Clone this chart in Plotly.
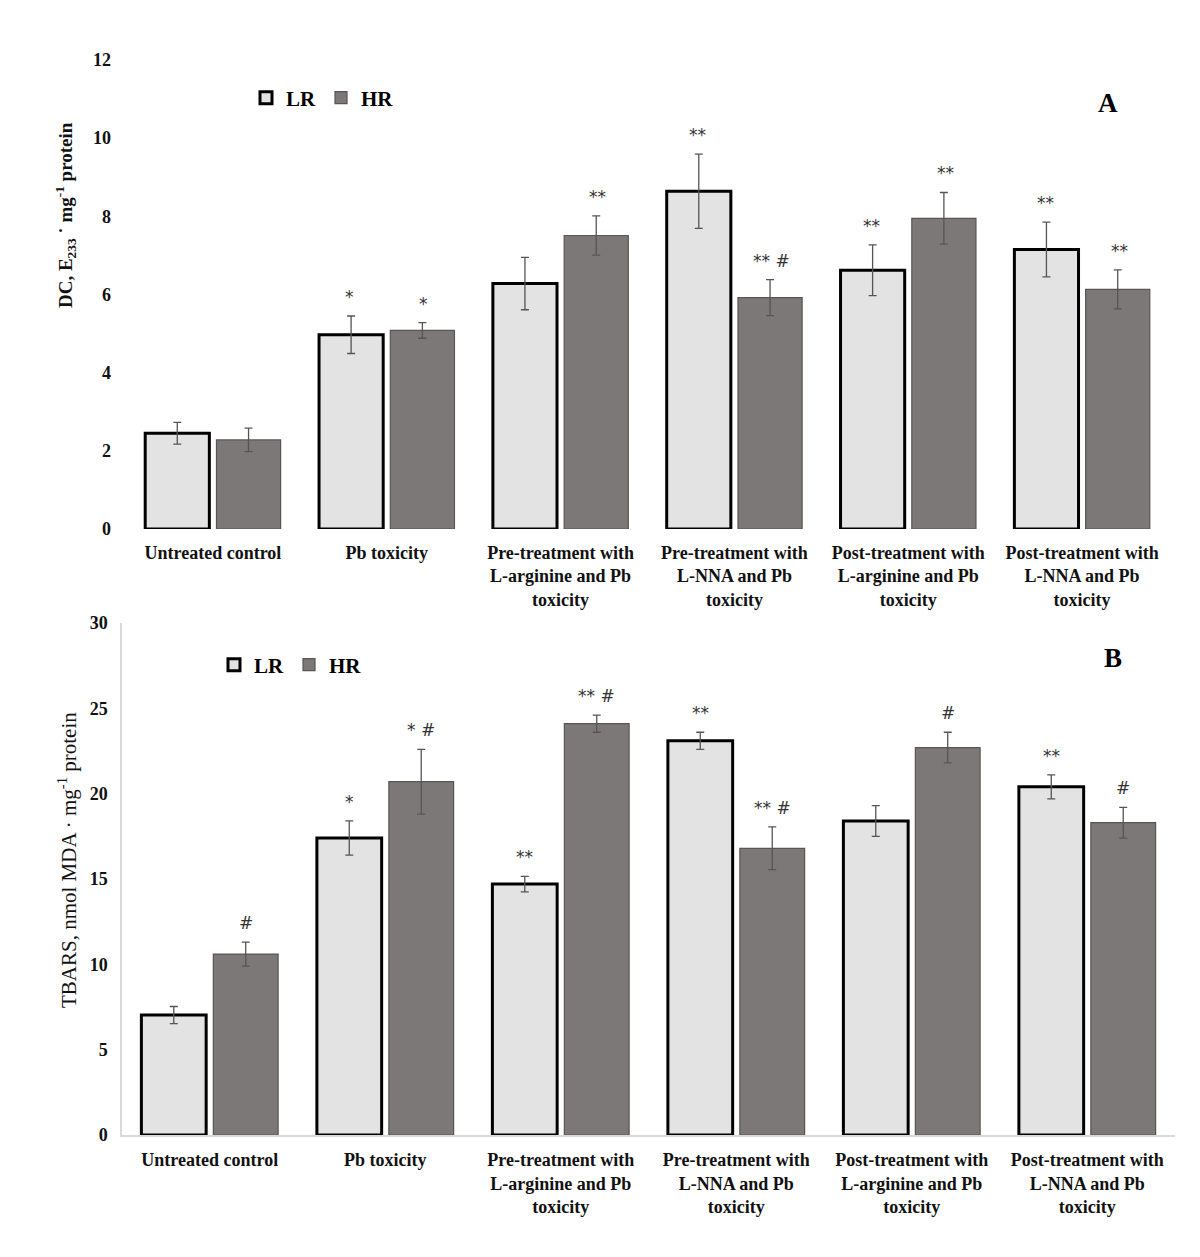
import plotly.graph_objects as go

categories = ["Untreated control", "Pb toxicity",
              "Pre-treatment with<br>L-arginine and Pb<br>toxicity",
              "Pre-treatment with<br>L-NNA and Pb<br>toxicity",
              "Post-treatment with<br>L-arginine and Pb<br>toxicity",
              "Post-treatment with<br>L-NNA and Pb<br>toxicity"]

dc_lr = [2.45, 4.97, 6.28, 8.64, 6.62, 7.15]
dc_lr_err = [0.28, 0.48, 0.67, 0.95, 0.65, 0.70]
dc_hr = [2.28, 5.08, 7.51, 5.92, 7.95, 6.13]
dc_hr_err = [0.30, 0.20, 0.50, 0.46, 0.66, 0.50]
dc_lr_sig = ["", "*", "", "**", "**", "**"]
dc_hr_sig = ["", "*", "**", "** #", "**", "**"]

tb_lr = [7.03, 17.4, 14.7, 23.1, 18.4, 20.4]
tb_lr_err = [0.5, 1.0, 0.45, 0.5, 0.9, 0.7]
tb_hr = [10.6, 20.7, 24.1, 16.8, 22.7, 18.3]
tb_hr_err = [0.7, 1.9, 0.5, 1.25, 0.9, 0.9]
tb_lr_sig = ["", "*", "**", "**", "", "**"]
tb_hr_sig = ["#", "* #", "** #", "** #", "#", "#"]

W, H = 1200, 1257
OFF = 8  # page body margin

def px(p):
    return (p - OFF) / W

def py(p):
    return 1 - (p - OFF) / H

LR_FILL = "#e3e3e3"
HR_FILL = "#7d7878"
ERR = "#555555"
serif = "Liberation Serif, DejaVu Serif, serif"
sans = "DejaVu Sans, Liberation Sans, sans-serif"

fig = go.Figure()

def add_panel(lr, lre, hr, hre, xa, ya, legend):
    fig.add_trace(go.Bar(x=categories, y=lr, name="LR", xaxis=xa, yaxis=ya,
                         marker=dict(color=LR_FILL, line=dict(color="#000000", width=3)),
                         error_y=dict(type="data", array=lre, color=ERR, thickness=1.3, width=4),
                         legend=legend))
    fig.add_trace(go.Bar(x=categories, y=hr, name="HR", xaxis=xa, yaxis=ya,
                         marker=dict(color=HR_FILL, line=dict(color="#5a5555", width=1.2)),
                         error_y=dict(type="data", array=hre, color=ERR, thickness=1.3, width=4),
                         legend=legend))

add_panel(dc_lr, dc_lr_err, dc_hr, dc_hr_err, "x", "y", "legend")
add_panel(tb_lr, tb_lr_err, tb_hr, tb_hr_err, "x2", "y2", "legend2")

annotations = []
def add_sig(vals, errs, sigs, xref, yref, shift):
    for c, v, e, s in zip(categories, vals, errs, sigs):
        if s:
            annotations.append(dict(x=c, y=v + e, xref=xref, yref=yref, text=s,
                                    showarrow=False, xshift=shift, yshift=7,
                                    xanchor="center", yanchor="bottom",
                                    font=dict(family=sans, size=17, color="#333333")))

add_sig(dc_lr, dc_lr_err, dc_lr_sig, "x", "y", -37)
add_sig(dc_hr, dc_hr_err, dc_hr_sig, "x", "y", 37)
add_sig(tb_lr, tb_lr_err, tb_lr_sig, "x2", "y2", -36)
add_sig(tb_hr, tb_hr_err, tb_hr_sig, "x2", "y2", 36)

annotations.append(dict(x=px(1108), y=py(103), xref="paper", yref="paper", text="<b>A</b>",
                        showarrow=False, xanchor="center", yanchor="middle",
                        font=dict(family=serif, size=27, color="#000")))
annotations.append(dict(x=px(1113), y=py(658), xref="paper", yref="paper", text="<b>B</b>",
                        showarrow=False, xanchor="center", yanchor="middle",
                        font=dict(family=serif, size=27, color="#000")))
annotations.append(dict(x=px(66), y=py(215), xref="paper", yref="paper", textangle=-90,
                        text="<b>DC, E<sub>233</sub> ˙ mg<sup>-1</sup> protein</b>",
                        showarrow=False, xanchor="center", yanchor="middle",
                        font=dict(family=serif, size=19, color="#111")))
annotations.append(dict(x=px(67), y=py(860), xref="paper", yref="paper", textangle=-90,
                        text="TBARS, nmol MDA · mg<sup>-1</sup> protein",
                        showarrow=False, xanchor="center", yanchor="middle",
                        font=dict(family=serif, size=21, color="#111")))

catfont = dict(family=serif, size=18, color="#111", weight="bold")
numfont = dict(family=serif, size=18, color="#111", weight="bold")
legfont = dict(family=serif, size=21, color="#000", weight="bold")
fig.update_layout(
    width=W, height=H, margin=dict(l=0, r=0, t=0, b=0, autoexpand=False),
    paper_bgcolor="white", plot_bgcolor="white",
    barmode="group", bargap=0.18, bargroupgap=0.1,
    annotations=annotations,
    xaxis=dict(domain=[px(126), px(1169)], anchor="y", showline=False, showgrid=False,
               ticks="", tickfont=catfont, tickangle=0, automargin=False,
               ticklabelstandoff=11),
    yaxis=dict(domain=[py(529), py(60)], anchor="x", range=[0, 12], dtick=2,
               showgrid=False, showline=False, zeroline=False, ticks="",
               tickfont=numfont, automargin=False, ticklabelstandoff=14),
    xaxis2=dict(domain=[px(122), px(1175)], anchor="y2", showline=True, linecolor="#d9d9d9",
                linewidth=1.5, showgrid=False, ticks="", tickfont=catfont, tickangle=0,
                automargin=False, ticklabelstandoff=8),
    yaxis2=dict(domain=[py(1135), py(623)], anchor="x2", range=[0, 30], dtick=5,
                showgrid=False, showline=True, linecolor="#d9d9d9", linewidth=1.5,
                zeroline=False, ticks="", tickfont=numfont, automargin=False,
                ticklabelstandoff=9),
    legend=dict(x=px(246), y=py(98), xanchor="left", yanchor="middle", orientation="h",
                font=legfont, bgcolor="rgba(0,0,0,0)", itemwidth=30, traceorder="normal"),
    legend2=dict(x=px(214), y=py(665), xanchor="left", yanchor="middle", orientation="h",
                 font=legfont, bgcolor="rgba(0,0,0,0)", itemwidth=30, traceorder="normal"),
)

fig.write_html("out.html")
